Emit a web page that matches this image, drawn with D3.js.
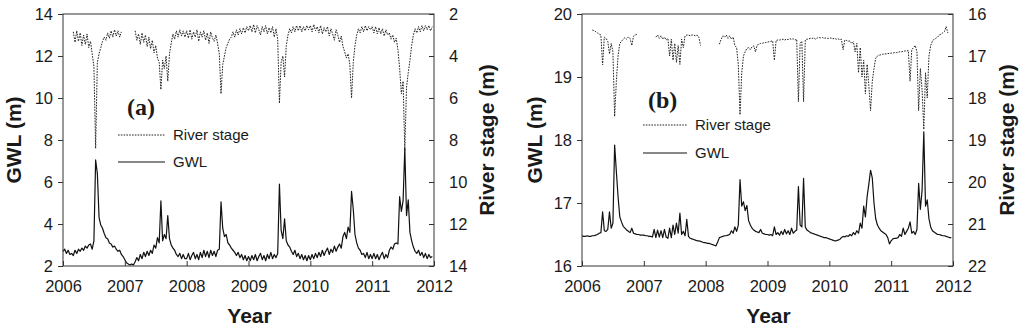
<!DOCTYPE html>
<html><head><meta charset="utf-8">
<script src="https://cdn.jsdelivr.net/npm/d3@7"></script>
<style>body{margin:0;background:#fff}svg{display:block}</style>
</head><body>
<svg id="c" width="1024" height="330"></svg>
<script>
// ---------- data (values sampled every ~10 days, one row per year 2006..2011) ----------
const yearTicks = [2006, 2007, 2008, 2009, 2010, 2011, 2012];

// Panel (a) groundwater level (m)
const gwlA = [
  [2.7,2.8,2.6,2.75,2.55,2.6,2.5,2.75,2.6,2.8,2.7,2.85,2.75,2.95,2.85,3.0,3.05,2.8,3.2,7.05,6.4,4.3,3.95,3.8,3.55,3.35,3.3,3.1,3.05,2.9,2.95,2.8,2.7,2.75,2.55,2.45],
  [2.3,2.15,2.1,2.05,2.1,2.05,2.2,2.4,2.25,2.55,2.35,2.65,2.45,2.7,2.5,2.75,2.6,3.0,2.85,3.35,3.1,5.1,3.2,3.5,3.3,4.4,3.3,3.0,2.85,2.75,2.55,2.45,2.6,2.35,2.55,2.35],
  [2.35,2.6,2.3,2.5,2.65,2.35,2.55,2.3,2.65,2.4,2.75,2.45,2.7,2.4,2.75,2.5,2.7,2.45,2.75,2.8,5.05,3.8,3.4,3.5,3.1,3.0,2.85,2.75,2.65,2.5,2.65,2.4,2.55,2.3,2.5,2.25],
  [2.45,2.25,2.5,2.3,2.55,2.25,2.45,2.6,2.3,2.5,2.25,2.55,2.35,2.65,2.35,2.55,2.4,2.6,5.9,3.7,3.3,4.25,3.2,3.0,2.9,2.7,2.55,2.75,2.45,2.6,2.35,2.55,2.3,2.5,2.25,2.5],
  [2.3,2.55,2.35,2.6,2.4,2.65,2.45,2.75,2.5,2.7,2.85,2.55,2.8,2.65,2.95,2.7,2.9,3.05,2.85,3.4,3.6,3.3,3.85,3.6,5.55,4.7,3.5,3.1,2.85,2.75,2.55,2.6,2.4,2.65,2.35,2.55],
  [2.35,2.6,2.35,2.55,2.3,2.5,2.65,2.35,2.55,2.4,2.75,2.9,2.8,3.05,3.1,3.05,5.3,4.6,5.1,7.6,4.4,5.15,3.6,3.2,2.9,2.7,2.6,2.75,2.5,2.65,2.4,2.6,2.35,2.55,2.4,2.45]
];
// Panel (a) river stage (m, axis reversed); null = no record
const riverA = [
  [null,null,null,null,null,null,2.85,3.35,2.8,3.3,2.9,3.5,3.0,3.45,2.95,3.6,3.3,3.9,4.5,8.4,4.3,3.9,3.6,3.3,3.1,3.25,2.9,3.15,2.8,3.1,2.75,3.05,2.8,3.1,2.85,null],
  [null,null,null,null,null,null,2.8,3.25,2.95,3.45,2.9,3.35,3.0,3.55,3.1,3.65,3.25,3.85,3.5,4.1,4.3,5.6,4.2,4.6,4.0,5.2,3.9,3.4,2.95,3.2,2.8,3.1,2.75,3.05,2.8,3.1],
  [2.8,3.15,2.75,3.2,2.85,3.1,2.75,3.3,2.85,3.1,2.8,3.25,2.9,3.4,2.85,3.15,3.3,3.0,3.4,3.9,5.8,4.4,4.0,3.6,3.4,3.2,3.1,2.85,3.1,2.75,3.0,2.7,2.95,2.65,2.9,2.6],
  [2.8,2.55,2.85,2.5,2.9,2.55,2.75,3.0,2.6,2.85,2.55,2.95,2.65,2.9,2.6,3.1,2.7,3.2,6.25,4.3,4.0,5.0,3.5,3.0,2.7,2.9,2.6,2.85,2.55,2.8,2.55,2.85,2.6,2.8,2.55,2.75],
  [2.55,2.85,2.5,2.8,2.6,2.9,2.55,2.95,2.65,2.85,2.6,3.05,2.7,2.95,3.25,2.75,3.0,3.35,3.05,3.55,3.8,4.1,3.9,4.4,6.0,4.3,3.5,3.0,2.7,2.9,2.6,2.85,2.55,2.8,2.6,2.75],
  [2.6,2.9,2.6,2.95,2.65,2.95,2.7,3.05,2.75,3.0,2.9,3.2,3.0,3.35,3.15,3.7,4.6,5.8,5.2,8.5,5.5,4.8,4.2,3.5,3.0,2.7,2.9,2.6,2.85,2.55,2.8,2.55,2.75,2.55,2.8,2.6]
];
// Panel (b) groundwater level (m)
const gwlB = [
  [16.48,16.47,16.47,16.48,16.47,16.47,16.48,16.48,16.49,16.5,16.52,16.53,16.86,16.56,16.55,16.58,16.86,16.6,16.68,17.92,17.5,17.1,16.78,16.7,16.63,16.6,16.57,16.55,16.53,16.6,16.52,16.51,16.5,16.5,16.49,16.49],
  [16.49,16.48,16.48,16.47,16.47,16.46,16.58,16.45,16.57,16.46,16.56,16.45,16.58,16.46,16.44,16.6,16.45,16.65,16.5,16.68,16.52,16.84,16.5,16.55,16.48,16.74,16.47,16.44,16.43,16.42,16.41,16.4,16.4,16.39,16.38,16.37],
  [16.37,16.36,16.36,16.35,16.34,16.33,16.32,16.38,16.45,16.46,16.47,16.48,16.48,16.49,16.5,16.56,16.52,16.62,16.55,16.65,17.37,16.95,17.02,16.88,16.96,16.72,16.65,16.6,16.57,16.55,16.54,16.53,16.58,16.52,16.51,16.5],
  [16.5,16.49,16.5,16.48,16.62,16.5,16.53,16.49,16.55,16.5,16.58,16.51,16.56,16.5,16.6,16.52,16.55,16.57,17.26,16.65,16.62,17.39,16.62,16.57,16.55,16.53,16.52,16.51,16.5,16.49,16.48,16.47,16.46,16.45,16.45,16.44],
  [16.43,16.42,16.41,16.4,16.4,16.41,16.42,16.45,16.47,16.46,16.48,16.47,16.5,16.48,16.53,16.5,16.56,16.52,16.68,16.6,16.95,16.78,17.1,17.3,17.52,17.4,17.0,16.75,16.65,16.6,16.56,16.54,16.52,16.5,16.45,16.35],
  [16.4,16.43,16.44,16.44,16.45,16.5,16.47,16.6,16.5,16.55,16.6,16.7,16.52,16.55,16.5,16.58,17.31,16.9,17.2,18.13,16.95,17.05,16.75,16.62,16.56,16.54,16.52,16.5,16.5,16.49,16.48,16.48,16.47,16.46,16.45,16.45]
];
// Panel (b) river stage (m, axis reversed); null = no record
const riverB = [
  [null,null,null,null,null,null,16.38,16.4,16.42,16.45,16.48,16.5,17.21,16.55,16.58,16.65,16.95,16.7,16.9,18.44,17.6,17.0,16.7,16.65,16.6,16.56,16.6,16.55,16.58,16.75,16.53,16.5,16.48,null,null,null],
  [null,null,null,null,null,null,null,16.55,16.5,16.58,16.52,16.6,16.55,16.62,16.58,17.0,16.6,17.1,16.7,17.15,16.75,17.2,16.6,16.8,16.52,16.5,16.5,16.52,16.5,16.5,16.52,16.5,16.55,16.75,null,null],
  [null,null,null,null,null,null,null,null,16.72,16.6,16.52,16.55,16.5,16.58,16.52,16.6,16.55,16.75,16.8,17.2,18.4,17.4,17.0,16.9,16.82,16.8,16.85,16.78,16.76,16.9,16.74,16.72,16.7,16.7,16.68,16.68],
  [16.67,16.66,16.65,16.64,17.1,16.63,16.62,16.62,16.61,16.6,16.62,16.6,16.61,16.59,16.6,16.59,16.62,16.6,18.09,16.7,16.65,18.09,16.62,16.6,16.59,16.58,16.58,16.57,16.6,16.57,16.56,16.57,16.56,16.58,16.57,16.58],
  [16.58,16.57,16.59,16.58,16.6,16.59,16.61,16.6,16.85,16.62,16.63,16.65,16.64,16.7,16.66,16.9,16.7,17.4,16.8,17.5,17.1,17.9,17.2,17.7,18.3,17.6,17.3,17.05,17.0,16.98,16.97,16.96,16.95,16.95,16.94,16.94],
  [16.93,16.93,16.92,16.92,16.91,16.9,16.9,16.89,16.88,16.88,16.87,17.6,16.85,16.8,16.75,16.9,18.3,17.3,17.8,18.75,17.4,18.0,17.0,16.75,16.65,16.6,16.58,16.55,16.5,16.48,16.45,16.42,16.3,16.45,null,null]
];

const gwlTicksA = [2, 4, 6, 8, 10, 12, 14];
const riverTicksA = [2, 4, 6, 8, 10, 12, 14];
const gwlTicksB = [16, 17, 18, 19, 20];
const riverTicksB = [16, 17, 18, 19, 20, 21, 22];
const legendLabels = ["River stage", "GWL"];
const axisTitles = { left: "GWL (m)", right: "River stage (m)", bottom: "Year" };

// ---------- drawing ----------
const svg = d3.select("#c");
const FONT = "Arial, 'Liberation Sans', Helvetica, sans-serif";
const INK = "#1a1a1a";

function toPoints(rows) {
  const pts = [];
  rows.forEach((row, y) => row.forEach((v, i) => pts.push({ t: yearTicks[0] + y + i / row.length, v })));
  return pts;
}

function panel(o) {
  const g = svg.append("g");
  const x = d3.scaleLinear().domain([2006, 2012]).range([o.left, o.right]);
  const yL = d3.scaleLinear().domain(d3.extent(o.gwlTicks)).range([o.bottom, o.top]);
  const yR = d3.scaleLinear().domain(d3.extent(o.riverTicks)).range([o.top, o.bottom]);

  // series
  const riverLine = d3.line().defined(d => d.v != null).x(d => x(d.t)).y(d => yR(d.v));
  const gwlLine = d3.line().x(d => x(d.t)).y(d => yL(d.v));
  g.append("path").attr("d", riverLine(toPoints(o.river)))
    .attr("fill", "none").attr("stroke", "#222").attr("stroke-width", 1)
    .attr("stroke-dasharray", "1.6,1.2");
  g.append("path").attr("d", gwlLine(toPoints(o.gwl)))
    .attr("fill", "none").attr("stroke", "#111").attr("stroke-width", 1.2)
    .attr("stroke-linejoin", "round");

  // frame
  g.append("rect").attr("x", o.left).attr("y", o.top)
    .attr("width", o.right - o.left).attr("height", o.bottom - o.top)
    .attr("fill", "none").attr("stroke", "#333").attr("stroke-width", 1);

  const styleAxis = sel => {
    sel.select(".domain").remove();
    sel.selectAll("line").attr("stroke", "#333");
    sel.selectAll("text").attr("font-family", FONT).attr("font-size", 16.5).attr("fill", INK);
  };
  g.append("g").attr("transform", `translate(${o.left},0)`)
    .call(d3.axisLeft(yL).tickValues(o.gwlTicks).tickSizeInner(5).tickSizeOuter(0).tickPadding(5).tickFormat(d3.format("d")))
    .call(styleAxis);
  g.append("g").attr("transform", `translate(${o.right},0)`)
    .call(d3.axisRight(yR).tickValues(o.riverTicks).tickSizeInner(-5).tickSizeOuter(0).tickPadding(15).tickFormat(d3.format("d")))
    .call(styleAxis);
  g.append("g").attr("transform", `translate(0,${o.bottom})`)
    .call(d3.axisBottom(x).tickValues(yearTicks).tickSizeInner(-5).tickSizeOuter(0).tickPadding(14).tickFormat(d3.format("d")))
    .call(styleAxis);

  // axis titles
  const midY = (o.top + o.bottom) / 2;
  g.append("text").attr("transform", `translate(${o.leftTitleX},${midY}) rotate(-90)`)
    .attr("text-anchor", "middle").attr("font-family", FONT).attr("font-weight", "bold")
    .attr("font-size", 21).attr("fill", INK).text(axisTitles.left);
  g.append("text").attr("transform", `translate(${o.rightTitleX},${midY}) rotate(-90)`)
    .attr("text-anchor", "middle").attr("font-family", FONT).attr("font-weight", "bold")
    .attr("font-size", 21).attr("fill", INK).text(axisTitles.right);
  g.append("text").attr("x", (o.left + o.right) / 2 + 1).attr("y", 323)
    .attr("text-anchor", "middle").attr("font-family", FONT).attr("font-weight", "bold")
    .attr("font-size", 21).attr("fill", INK).text(axisTitles.bottom);

  // panel tag
  g.append("text").attr("x", o.tagX).attr("y", o.tagY)
    .attr("font-family", "'Times New Roman', 'Liberation Serif', serif").attr("font-weight", "bold")
    .attr("font-size", 24).attr("fill", INK).text(o.tag);

  // legend
  const L = o.legend;
  g.append("line").attr("x1", L.x1).attr("x2", L.x2).attr("y1", L.y1).attr("y2", L.y1)
    .attr("stroke", "#222").attr("stroke-width", 1).attr("stroke-dasharray", "1.6,1.2");
  g.append("line").attr("x1", L.x1).attr("x2", L.x2).attr("y1", L.y2).attr("y2", L.y2)
    .attr("stroke", "#111").attr("stroke-width", 1.2);
  g.append("text").attr("x", L.tx).attr("y", L.y1).attr("dy", "0.35em")
    .attr("font-family", FONT).attr("font-size", 15).attr("fill", INK).text(legendLabels[0]);
  g.append("text").attr("x", L.tx).attr("y", L.y2).attr("dy", "0.35em")
    .attr("font-family", FONT).attr("font-size", 15).attr("fill", INK).text(legendLabels[1]);
}

panel({
  left: 63, right: 434, top: 14, bottom: 266,
  gwl: gwlA, river: riverA, gwlTicks: gwlTicksA, riverTicks: riverTicksA,
  leftTitleX: 21, rightTitleX: 494, tag: "(a)", tagX: 127, tagY: 115,
  legend: { x1: 118, x2: 165, y1: 135, y2: 162, tx: 173 }
});
panel({
  left: 582, right: 953, top: 14, bottom: 266,
  gwl: gwlB, river: riverB, gwlTicks: gwlTicksB, riverTicks: riverTicksB,
  leftTitleX: 542, rightTitleX: 1014, tag: "(b)", tagX: 648, tagY: 108,
  legend: { x1: 643, x2: 687, y1: 125, y2: 153, tx: 695 }
});
</script>
</body></html>
